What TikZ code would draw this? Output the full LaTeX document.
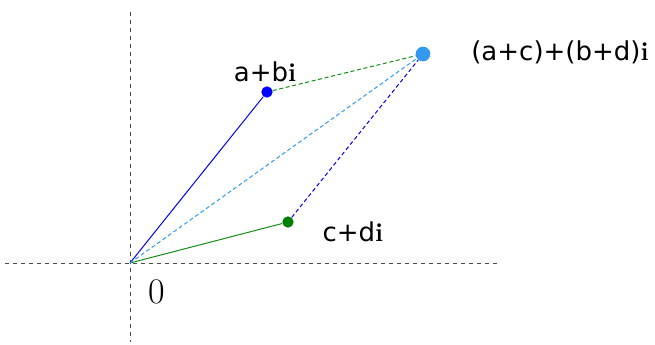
\documentclass[tikz,border=0pt]{standalone}
\usepackage{fontspec}
\setmainfont{DejaVu Sans}
\newfontfamily\serifrm{Latin Modern Roman}
\definecolor{sumblue}{RGB}{51,153,238}
\definecolor{vecgreen}{RGB}{20,140,20}
\newcommand{\imag}{{\serifrm\bfseries i}}

\begin{document}
\begin{tikzpicture}[
  x=0.75pt, y=-0.75pt,
  font=\fontsize{19.5}{21}\selectfont,
  axis/.style={draw=black!70, dash pattern=on 3pt off 3pt, line width=0.7pt},
  vec/.style={line width=0.75pt},
  dvec/.style={line width=0.75pt, dash pattern=on 3pt off 2pt},
  dot/.style={circle, inner sep=0pt, minimum size=#1},
  lbl/.style={inner sep=0pt},
]
\useasboundingbox (0,0) rectangle (655,345);

% axes
\coordinate (xl) at (5,263);
\coordinate (xr) at (497,263);
\coordinate (yt) at (130,12);
\coordinate (yb) at (130,342);
\coordinate (o) at (130,263);
\draw[axis] (xl) -- (xr);
\draw[axis] (yt) -- (yb);

% points
\node[dot=8.5pt, fill=blue] (ab) at (267,92) {};
\node[dot=8.5pt, fill=green!50!black] (cd) at (288,222) {};
\node[dot=11pt, fill=sumblue] (sum) at (423,54) {};

% vectors
\draw[vec, blue] (o) -- (ab);
\draw[vec, vecgreen] (o) -- (cd);
\draw[dvec, sumblue] (o) -- (sum);
\draw[dvec, vecgreen] (ab) -- (sum);
\draw[dvec, blue] (cd) -- (sum);

% labels
\node[lbl] (labab) at (265,72) {a+b\imag};
\node[lbl] (labcd) at (353,232) {c+d\imag};
\node[lbl] (labsum) at (560,52) {(a+c)+(b+d)\imag};
\node[lbl, font=\serifrm\fontsize{27}{29}\selectfont] (lab0) at (157,292) {0};
\end{tikzpicture}
\end{document}
